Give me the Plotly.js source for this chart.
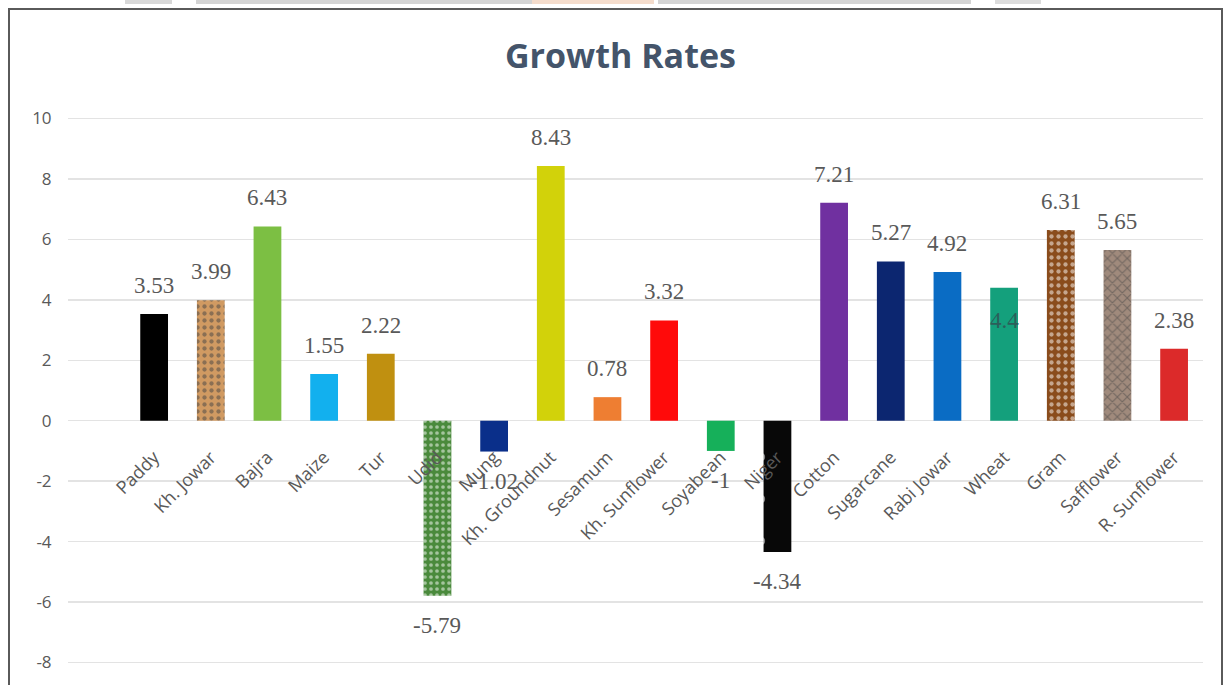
<!DOCTYPE html>
<html>
<head>
<meta charset="utf-8">
<script src="https://cdn.plot.ly/plotly-3.0.1.min.js"></script>
<style>html,body{margin:0;padding:0;background:#fff;}#chart{width:1228px;height:685px;}</style>
</head>
<body>
<div id="chart"></div>
<script>
// ---- data ----
var crops = ["Paddy","Kh. Jowar","Bajra","Maize","Tur","Udid","Mung","Kh. Groundnut","Sesamum","Kh. Sunflower","Soyabean","Niger","Cotton","Sugarcane","Rabi Jowar","Wheat","Gram","Safflower","R. Sunflower"];
var growthRates = [3.53,3.99,6.43,1.55,2.22,-5.79,-1.02,8.43,0.78,3.32,-1,-4.34,7.21,5.27,4.92,4.4,6.31,5.65,2.38];
var yTicks = [-8,-6,-4,-2,0,2,4,6,8,10];

// ---- styles ----
var barColors = ["#000000","#d09a62","#7cbf43","#12b0ee","#c09010","#4a8a3c","#0a2f8a","#d2d20a","#ee7e32","#ff0a0a","#16b05a","#080808","#7030a0","#0c2670","#0a6cc4","#14a07c","#8a4c1c","#a08a7c","#dc2a2a"];
var patShapes = ["", ".", "", "", "", ".", "", "", "", "", "", ".", "", "", "", "", ".", "x", ""];
var patFg = ["#000","#6e4a28","#000","#000","#000","#5c9c4c","#000","#000","#000","#000","#000","#e0e0e0","#000","#000","#000","#000","#5a2c0c","#e4d6cc","#000"];
var patSize = [7,7,7,7,7,6,7,7,7,7,7,42,7,7,7,7,7,7,7];
var patSolid = [0.3,0.3,0.3,0.3,0.3,0.3,0.3,0.3,0.3,0.3,0.3,0.03,0.3,0.3,0.3,0.3,0.3,0.3,0.3];

var yMin = -8.579, yMax = 10.612;
var zeroPos = (0 - yMin) / (yMax - yMin);

var trace = {
  type: "bar",
  x: crops,
  y: growthRates,
  marker: {
    color: barColors,
    line: {width: 0},
    pattern: {shape: patShapes, fgcolor: patFg, fillmode: "overlay", size: patSize, solidity: patSolid}
  },
  hoverinfo: "x+y"
};

var annotations = crops.map(function(c, i) {
  var v = growthRates[i];
  var a = {
    x: c, y: v, xref: "x", yref: "y",
    text: String(v), showarrow: false,
    font: {family: "Liberation Serif, Times New Roman, serif", size: 23, color: "#595959"}
  };
  if (c === "Wheat") {
    a.yanchor = "middle"; a.yshift = -33; a.font = {family: "Liberation Serif, serif", size: 23, color: "#2c5e5a"};
  } else if (v >= 0) {
    a.yanchor = "bottom"; a.yshift = 14;
  } else {
    a.yanchor = "top"; a.yshift = -15;
  }
  return a;
});

annotations.push({
  xref: "paper", yref: "paper", x: 0.5, y: 1.0, xanchor: "center", yanchor: "bottom",
  yshift: 20, xshift: -15,
  text: "<b>Growth Rates</b>", showarrow: false,
  font: {family: "Open Sans, sans-serif", size: 34, color: "#44546a"}
});

// frame & top strip shapes (pixel positions converted to paper coords)
var L = 68, R = 1203, T = 100, B = 680;
function px(x){ return (x - L) / (R - L); }
function py(y){ return (B - y) / (B - T); }
var shapes = [
  {type:"rect", xref:"paper", yref:"paper", x0:px(9), x1:px(1222), y0:py(700), y1:py(9), line:{color:"#5a5a5a", width:2}, fillcolor:"rgba(0,0,0,0)", layer:"above"}
];
var strip = [[125,172,"#d8d8d8"],[196,532,"#d4d4d4"],[532,654,"#f4dccc"],[658,971,"#d4d4d4"],[995,1041,"#dcdcdc"]];
strip.forEach(function(s){
  shapes.push({type:"rect", xref:"paper", yref:"paper", x0:px(s[0]), x1:px(s[1]), y0:py(4), y1:py(-2), line:{width:0}, fillcolor:s[2], layer:"above"});
});

var layout = {
  width: 1228, height: 685,
  margin: {l: L, r: 1228 - R, t: T, b: 685 - B},
  paper_bgcolor: "#ffffff", plot_bgcolor: "#ffffff",
  showlegend: false,
  bargap: 0.51,
  xaxis: {
    type: "category",
    range: [-1.52, 18.51],
    anchor: "free", position: zeroPos,
    showgrid: false, zeroline: false, showline: false,
    ticks: "outside", ticklen: 18, tickcolor: "rgba(0,0,0,0)",
    tickangle: -45,
    tickfont: {family: "Open Sans, sans-serif", size: 18, color: "#595959"}
  },
  yaxis: {
    range: [yMin, yMax],
    tickvals: yTicks,
    ticktext: yTicks.map(String),
    showgrid: true, gridcolor: "#e3e3e3", gridwidth: 1.5,
    zeroline: false, showline: false,
    ticks: "outside", ticklen: 12, tickcolor: "rgba(0,0,0,0)",
    tickfont: {family: "Open Sans, sans-serif", size: 17, color: "#595959"}
  },
  annotations: annotations,
  shapes: shapes
};

Plotly.newPlot("chart", [trace], layout, {displayModeBar: false, staticPlot: true});
</script>
</body>
</html>
